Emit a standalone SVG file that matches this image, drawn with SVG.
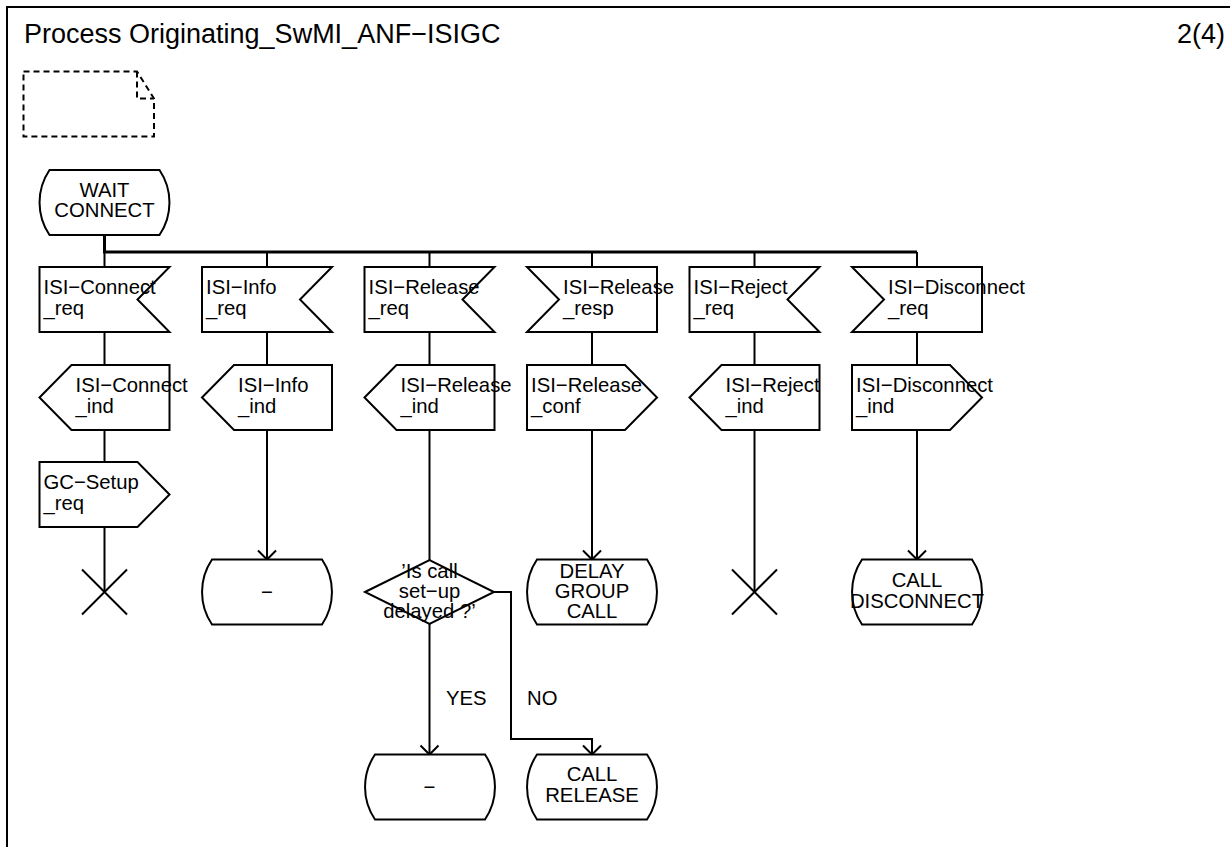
<svg xmlns="http://www.w3.org/2000/svg" width="1230" height="847" viewBox="0 0 1230 847">
<style>
text{font-family:"Liberation Sans",Arial,sans-serif;font-size:20.3px;fill:#000}
.t{font-size:27px}
.c{text-anchor:middle}
.s{fill:#fff;stroke:#000;stroke-width:2}
.l{fill:none;stroke:#000;stroke-width:2}
.b{fill:none;stroke:#000;stroke-width:3}
.a{marker-end:url(#arr)}
.n{fill:none;stroke:#000;stroke-width:2;stroke-dasharray:6 4}
</style>
<defs>
<marker id="arr" markerWidth="20" markerHeight="20" markerUnits="userSpaceOnUse" refX="10" refY="10" orient="auto" overflow="visible">
<path d="M1,1 L10,10 L1,19" fill="none" stroke="#000" stroke-width="2"/>
</marker>
</defs>
<rect x="7" y="7" width="1260" height="880" fill="#fff" stroke="#000" stroke-width="2"/>
<text class="t" x="24" y="43">Process Originating_SwMI_ANF−ISIGC</text>
<text class="t" x="1225" y="43" text-anchor="end">2(4)</text>
<g id="note">
<path class="n" d="M23.5,71.5 H137 L154,98.5 V136.5 H23.5 Z"/>
<path class="n" d="M137,71.5 V98.5 H154"/>
</g>
<g id="connectors">
<path class="b" d="M104.5,235 V252 H917"/>
<path class="l" d="M104.5,252 V267 M267,252 V267 M429.5,252 V267 M592,252 V267 M754.5,252 V267 M917,252 V267"/>
<path class="l" d="M104.5,332 V365 M267,332 V365 M429.5,332 V365 M592,332 V365 M754.5,332 V365 M917,332 V365"/>
<path class="l" d="M104.5,430 V462 M104.5,527 V592"/>
<path class="l a" d="M267,430 V559.5"/>
<path class="l" d="M429.5,430 V560"/>
<path class="l a" d="M429.5,624 V754.5"/>
<path class="l a" d="M494,592 H511 V739 H592 V754.5"/>
<path class="l a" d="M592,430 V559.5"/>
<path class="l" d="M754.5,430 V592"/>
<path class="l a" d="M917,430 V559.5"/>
<text x="446" y="705">YES</text>
<text x="527" y="705">NO</text>
</g>
<g id="wait_connect">
<path class="s" d="M49.5,170 H159.5 A58,58 0 0 1 159.5,235 H49.5 A58,58 0 0 1 49.5,170 Z"/>
<text class="c" x="104.5" y="197">WAIT</text>
<text class="c" x="104.5" y="217">CONNECT</text>
</g>
<g id="in_connect_req">
<path class="s" d="M39.5,267 H169.5 L137.5,299.5 L169.5,332 H39.5 Z"/>
<text x="43.5" y="294">ISI−Connect</text>
<text x="43.5" y="315">_req</text>
</g>
<g id="in_info_req">
<path class="s" d="M202,267 H332 L300,299.5 L332,332 H202 Z"/>
<text x="206" y="294">ISI−Info</text>
<text x="206" y="315">_req</text>
</g>
<g id="in_release_req">
<path class="s" d="M364.5,267 H494.5 L462.5,299.5 L494.5,332 H364.5 Z"/>
<text x="368.5" y="294">ISI−Release</text>
<text x="368.5" y="315">_req</text>
</g>
<g id="in_release_resp">
<path class="s" d="M527,267 H657 V332 H527 L559,299.5 Z"/>
<text x="563" y="294">ISI−Release</text>
<text x="563" y="315">_resp</text>
</g>
<g id="in_reject_req">
<path class="s" d="M689.5,267 H819.5 L787.5,299.5 L819.5,332 H689.5 Z"/>
<text x="693.5" y="294">ISI−Reject</text>
<text x="693.5" y="315">_req</text>
</g>
<g id="in_disconnect_req">
<path class="s" d="M852,267 H982 V332 H852 L884,299.5 Z"/>
<text x="888" y="294">ISI−Disconnect</text>
<text x="888" y="315">_req</text>
</g>
<g id="out_connect_ind">
<path class="s" d="M39.5,397.5 L71.5,365 H169.5 V430 H71.5 Z"/>
<text x="75.5" y="392">ISI−Connect</text>
<text x="75.5" y="413">_ind</text>
</g>
<g id="out_info_ind">
<path class="s" d="M202,397.5 L234,365 H332 V430 H234 Z"/>
<text x="238" y="392">ISI−Info</text>
<text x="238" y="413">_ind</text>
</g>
<g id="out_release_ind">
<path class="s" d="M364.5,397.5 L396.5,365 H494.5 V430 H396.5 Z"/>
<text x="400.5" y="392">ISI−Release</text>
<text x="400.5" y="413">_ind</text>
</g>
<g id="out_release_conf">
<path class="s" d="M527,365 H625 L657,397.5 L625,430 H527 Z"/>
<text x="531" y="392">ISI−Release</text>
<text x="531" y="413">_conf</text>
</g>
<g id="out_reject_ind">
<path class="s" d="M689.5,397.5 L721.5,365 H819.5 V430 H721.5 Z"/>
<text x="725.5" y="392">ISI−Reject</text>
<text x="725.5" y="413">_ind</text>
</g>
<g id="out_disconnect_ind">
<path class="s" d="M852,365 H950 L982,397.5 L950,430 H852 Z"/>
<text x="856" y="392">ISI−Disconnect</text>
<text x="856" y="413">_ind</text>
</g>
<g id="out_gc_setup_req">
<path class="s" d="M39.5,462 H137.5 L169.5,494.5 L137.5,527 H39.5 Z"/>
<text x="43.5" y="489">GC−Setup</text>
<text x="43.5" y="510">_req</text>
</g>
<g id="stop1">
<path class="l" d="M82,569.5 L127,614.5 M82,614.5 L127,569.5"/>
</g>
<g id="state_dash1">
<path class="s" d="M212,559.5 H322 A58,58 0 0 1 322,624.5 H212 A58,58 0 0 1 212,559.5 Z"/>
<text class="c" x="267" y="599">−</text>
</g>
<g id="decision">
<path class="s" d="M365,592 L429.5,560 L494,592 L429.5,624 Z"/>
<text class="c" x="429.5" y="578">’Is call</text>
<text class="c" x="429.5" y="598">set−up</text>
<text class="c" x="429.5" y="618">delayed ?’</text>
</g>
<g id="state_delay_group_call">
<path class="s" d="M537,559.5 H647 A58,58 0 0 1 647,624.5 H537 A58,58 0 0 1 537,559.5 Z"/>
<text class="c" x="592" y="578">DELAY</text>
<text class="c" x="592" y="598">GROUP</text>
<text class="c" x="592" y="618">CALL</text>
</g>
<g id="stop2">
<path class="l" d="M732,569.5 L777,614.5 M732,614.5 L777,569.5"/>
</g>
<g id="state_call_disconnect">
<path class="s" d="M862,559.5 H972 A58,58 0 0 1 972,624.5 H862 A58,58 0 0 1 862,559.5 Z"/>
<text class="c" x="917" y="587">CALL</text>
<text class="c" x="917" y="608">DISCONNECT</text>
</g>
<g id="state_dash2">
<path class="s" d="M375,754.5 H485 A58,58 0 0 1 485,819.5 H375 A58,58 0 0 1 375,754.5 Z"/>
<text class="c" x="429.5" y="794">−</text>
</g>
<g id="state_call_release">
<path class="s" d="M537,754.5 H647 A58,58 0 0 1 647,819.5 H537 A58,58 0 0 1 537,754.5 Z"/>
<text class="c" x="592" y="781">CALL</text>
<text class="c" x="592" y="802">RELEASE</text>
</g>
</svg>
